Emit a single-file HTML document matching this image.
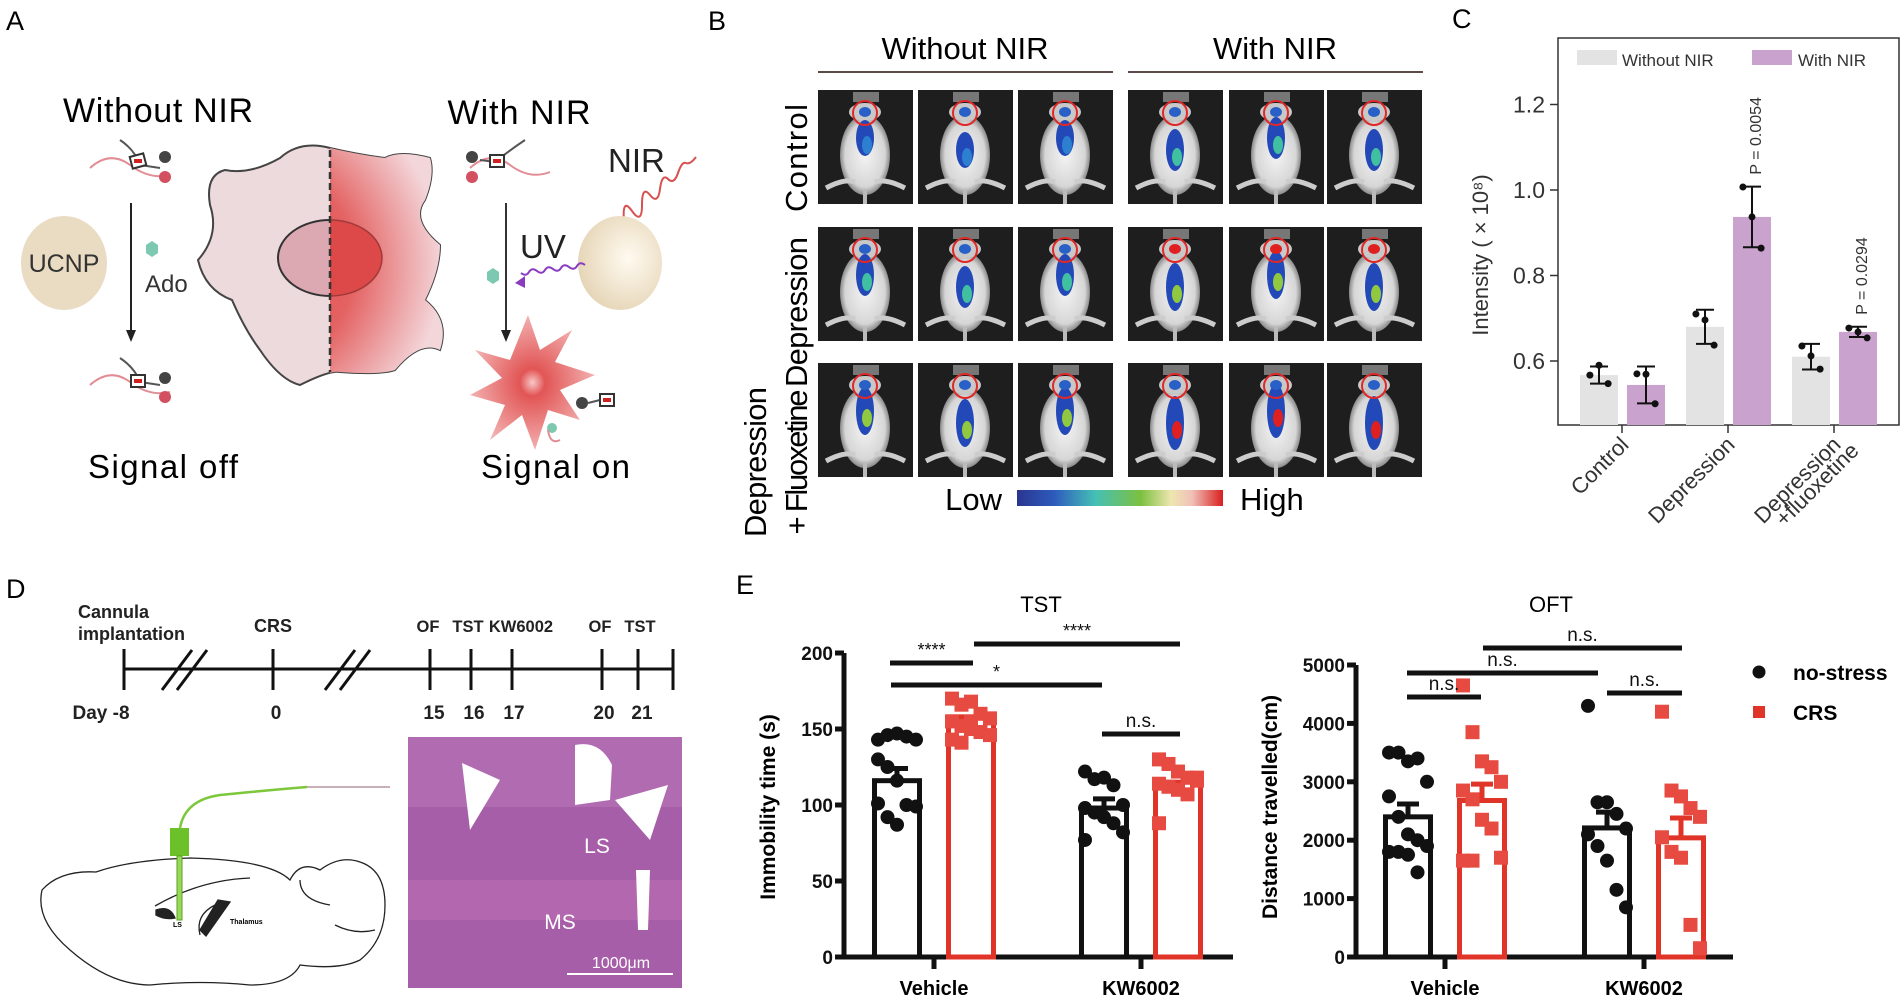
<!DOCTYPE html>
<html><head><meta charset="utf-8"><style>
html,body{margin:0;padding:0;background:#fff;width:1904px;height:1000px;overflow:hidden}
svg{display:block}
text{font-family:"Liberation Sans",Arial,sans-serif}
</style></head><body>
<svg id="fig" width="1904" height="1000" viewBox="0 0 1904 1000">
<defs>
<radialGradient id="redglow" cx="0.2" cy="0.5" r="0.8"><stop offset="0" stop-color="#e04a4a"/><stop offset="0.55" stop-color="#e46262"/><stop offset="1" stop-color="#f3d6da"/></radialGradient>
<radialGradient id="sphere" cx="0.6" cy="0.45" r="0.6"><stop offset="0" stop-color="#fffaf0"/><stop offset="1" stop-color="#e6d6b8"/></radialGradient>
<radialGradient id="burst" cx="0.5" cy="0.5" r="0.5"><stop offset="0" stop-color="#f8c8c8"/><stop offset="0.2" stop-color="#e25555"/><stop offset="1" stop-color="#f2b0b0"/></radialGradient>
<linearGradient id="cbar" x1="0" x2="1"><stop offset="0" stop-color="#2a3590"/><stop offset="0.18" stop-color="#2d5bbd"/><stop offset="0.38" stop-color="#45c0b5"/><stop offset="0.6" stop-color="#7cc040"/><stop offset="0.75" stop-color="#efe6b0"/><stop offset="0.85" stop-color="#f0c0b8"/><stop offset="1" stop-color="#d81e1e"/></linearGradient>
<radialGradient id="mbody" cx="0.5" cy="0.5" r="0.5"><stop offset="0" stop-color="#f4f4f4"/><stop offset="0.8" stop-color="#d6d6d6"/><stop offset="1" stop-color="#8a8a8a"/></radialGradient>
<clipPath id="cellL"><rect x="150" y="130" width="180" height="280"/></clipPath>
<clipPath id="cellR"><rect x="330" y="130" width="180" height="280"/></clipPath>
</defs>

<!-- PANEL A -->
<g>
<text x="6" y="30" font-size="27">A</text>
<text x="158" y="122" font-size="34" text-anchor="middle" textLength="190">Without NIR</text>
<text x="519" y="124" font-size="34" text-anchor="middle" textLength="143">With NIR</text>
<g fill="none" stroke-width="2">
<path d="M90 168 Q110 150 130 165 T170 175" stroke="#e28c94"/><path d="M120 140 Q135 150 140 165 L160 168" stroke="#555"/>
<circle cx="165" cy="157" r="6" fill="#444" stroke="none"/><circle cx="165" cy="177" r="6" fill="#d25060" stroke="none"/><rect x="131" y="155" width="14" height="12" stroke="#333" fill="#fff" transform="rotate(-15 138 161)"/><rect x="134" y="159" width="8" height="4" fill="#d02020" stroke="none"/></g>
<g fill="none" stroke-width="2">
<path d="M90 385 Q110 367 130 382 T170 392" stroke="#e28c94"/><path d="M120 358 Q135 368 140 382 L160 385" stroke="#555"/>
<circle cx="165" cy="378" r="6" fill="#444" stroke="none"/><circle cx="165" cy="397" r="6" fill="#d25060" stroke="none"/><rect x="131" y="375" width="14" height="12" stroke="#333" fill="#fff"/><rect x="134" y="379" width="8" height="4" fill="#d02020" stroke="none"/></g>
<line x1="131" y1="203" x2="131" y2="332" stroke="#222" stroke-width="2"/>
<polygon points="126,330 136,330 131,342" fill="#222"/>
<ellipse cx="64" cy="263" rx="43" ry="47" fill="#e9dcc2"/>
<text x="64" y="272" font-size="25" text-anchor="middle" fill="#333">UCNP</text>
<polygon points="146,245 152,241 158,245 158,253 152,257 146,253" fill="#7cc8b0"/>
<text x="145" y="292" font-size="24" fill="#333">Ado</text>
<g>
<path d="M330 148 Q300 140 280 158 Q250 175 225 170 Q205 175 210 205 Q220 235 198 260 Q205 290 232 300 Q245 330 260 350 Q280 380 300 385 Q330 370 340 372 Q380 375 395 370 Q420 340 440 350 Q450 320 425 300 Q440 270 440 245 Q410 220 425 200 Q435 175 430 158 Q400 150 385 158 Q360 155 330 148 Z" fill="#ecdadd" stroke="#444" stroke-width="2"/>
<path d="M330 148 Q300 140 280 158 Q250 175 225 170 Q205 175 210 205 Q220 235 198 260 Q205 290 232 300 Q245 330 260 350 Q280 380 300 385 Q330 370 340 372 Q380 375 395 370 Q420 340 440 350 Q450 320 425 300 Q440 270 440 245 Q410 220 425 200 Q435 175 430 158 Q400 150 385 158 Q360 155 330 148 Z" fill="url(#redglow)" clip-path="url(#cellR)"/>
<ellipse cx="330" cy="258" rx="52" ry="38" fill="#dca8b2" stroke="#333" stroke-width="2" clip-path="url(#cellL)"/>
<ellipse cx="330" cy="258" rx="52" ry="38" fill="#dd4848" stroke="#a03a3a" stroke-width="1.5" clip-path="url(#cellR)"/>
<line x1="330" y1="150" x2="330" y2="372" stroke="#333" stroke-width="2.5" stroke-dasharray="7,4"/>
</g>
<g fill="none" stroke-width="2">
<path d="M470 168 Q490 150 510 165 T550 172" stroke="#e28c94"/><path d="M480 160 L495 162 Q510 150 525 140" stroke="#555"/>
<circle cx="472" cy="157" r="6" fill="#444" stroke="none"/><circle cx="472" cy="177" r="6" fill="#d25060" stroke="none"/><rect x="490" y="155" width="14" height="12" stroke="#333" fill="#fff"/><rect x="493" y="159" width="8" height="4" fill="#d02020" stroke="none"/></g>
<line x1="506" y1="203" x2="506" y2="332" stroke="#333" stroke-width="2"/>
<polygon points="501,330 511,330 506,342" fill="#222"/>
<text x="608" y="172" font-size="33" fill="#222">NIR</text>
<path d="M696 157 q-6 8 -10 6 t-8 10 t-10 6 t-8 10 t-10 6 t-8 10 t-10 6 t-8 10" fill="none" stroke="#d85050" stroke-width="2"/>
<polygon points="622,233 628,220 634,228" fill="#d85050"/>
<ellipse cx="620" cy="263" rx="42" ry="47" fill="url(#sphere)"/>
<text x="520" y="258" font-size="33" fill="#222">UV</text>
<path d="M585 265 q-5 -4 -8 1 t-8 1 t-8 1 t-8 1 t-8 1 t-8 1 t-8 1 t-8 1" fill="none" stroke="#8a3cc0" stroke-width="2"/>
<polygon points="515,283 525,276 525,288" fill="#8a3cc0"/>
<polygon points="487,272 493,268 499,272 499,280 493,284 487,280" fill="#7cc8b0"/>
<polygon fill="url(#burst)" points="528,315 540,350 572,330 555,362 595,375 560,390 580,420 548,410 535,450 522,415 490,440 505,405 470,395 502,378 475,350 510,360"/>
<g fill="none" stroke-width="2"><circle cx="582" cy="403" r="6" fill="#444" stroke="none"/><path d="M588 403 L600 400" stroke="#555"/><rect x="600" y="394" width="14" height="12" stroke="#333" fill="#fff"/><rect x="603" y="398" width="8" height="4" fill="#d02020" stroke="none"/><circle cx="552" cy="428" r="5" fill="#7cc8b0" stroke="none"/><path d="M548 430 Q550 445 560 440" stroke="#e28c94"/></g>
<text x="88" y="478" font-size="33" textLength="150">Signal off</text>
<text x="481" y="478" font-size="33" textLength="149">Signal on</text>
</g>

<!-- PANEL B -->
<g id="panelB">
<text x="708" y="30" font-size="27">B</text>
<text x="965" y="59" font-size="31" text-anchor="middle">Without NIR</text>
<text x="1275" y="59" font-size="31" text-anchor="middle">With NIR</text>
<line x1="818" y1="72" x2="1113" y2="72" stroke="#5a4a48" stroke-width="2"/>
<line x1="1128" y1="72" x2="1423" y2="72" stroke="#5a4a48" stroke-width="2"/>
<text transform="translate(807,158) rotate(-90)" font-size="31" text-anchor="middle" textLength="108">Control</text>
<text transform="translate(807,312) rotate(-90)" font-size="31" text-anchor="middle" textLength="150">Depression</text>
<text transform="translate(766,462) rotate(-90)" font-size="31" text-anchor="middle" textLength="150">Depression</text>
<text transform="translate(807,462) rotate(-90)" font-size="31" text-anchor="middle" textLength="145">+ Fluoxetine</text>
<text x="1002" y="510" font-size="31" text-anchor="end">Low</text>
<rect x="1017" y="490" width="206" height="16" fill="url(#cbar)"/>
<text x="1240" y="510" font-size="31">High</text>
</g>

<!-- PANEL C -->
<g id="panelC">
<text x="1452" y="28" font-size="27">C</text>
</g>

<!-- PANEL D -->
<g>
<text x="6" y="598" font-size="27">D</text>
<g font-weight="bold" font-size="18" fill="#222">
<text x="78" y="618">Cannula</text>
<text x="78" y="640">implantation</text>
<text x="273" y="632" text-anchor="middle">CRS</text>
<text x="428" y="632" text-anchor="middle" font-size="16.5">OF</text>
<text x="468" y="632" text-anchor="middle" font-size="16.5">TST</text>
<text x="521" y="632" text-anchor="middle" font-size="16.5">KW6002</text>
<text x="600" y="632" text-anchor="middle" font-size="16.5">OF</text>
<text x="640" y="632" text-anchor="middle" font-size="16.5">TST</text>
<text x="101" y="719" text-anchor="middle" font-size="19">Day -8</text>
<text x="276" y="719" text-anchor="middle" font-size="19">0</text>
<text x="434" y="719" text-anchor="middle" font-size="19">15</text>
<text x="474" y="719" text-anchor="middle" font-size="19">16</text>
<text x="514" y="719" text-anchor="middle" font-size="19">17</text>
<text x="604" y="719" text-anchor="middle" font-size="19">20</text>
<text x="642" y="719" text-anchor="middle" font-size="19">21</text>
</g>
<g stroke="#111" stroke-width="3">
<line x1="124" y1="669" x2="673" y2="669"/>
<line x1="124" y1="649" x2="124" y2="690"/><line x1="273" y1="649" x2="273" y2="690"/>
<line x1="430" y1="649" x2="430" y2="690"/><line x1="471" y1="649" x2="471" y2="690"/><line x1="512" y1="649" x2="512" y2="690"/>
<line x1="602" y1="649" x2="602" y2="690"/><line x1="638" y1="649" x2="638" y2="690"/><line x1="673" y1="649" x2="673" y2="690"/>
<line x1="162" y1="690" x2="192" y2="650"/><line x1="177" y1="690" x2="207" y2="650"/>
<line x1="325" y1="690" x2="355" y2="650"/><line x1="340" y1="690" x2="370" y2="650"/>
</g>
<g fill="none" stroke="#222" stroke-width="1.3">
<path d="M96 872 Q60 870 42 890 Q35 920 70 950 Q110 985 150 985 Q200 980 250 985 Q290 985 300 965 Q340 970 360 960 Q385 940 385 905 Q385 870 360 862 Q340 855 320 870 Q300 860 290 880 Q270 860 190 858 Q130 860 96 872 Z"/>
<path d="M155 906 Q200 880 250 878"/><path d="M200 935 Q195 915 215 905"/><path d="M300 880 Q300 900 330 905"/><path d="M335 925 Q355 935 375 930"/>
<path d="M156 910 Q170 905 175 918 Q165 920 156 915 Z" fill="#222"/>
<path d="M218 900 L230 902 L206 936 L200 930 Z" fill="#222"/>
</g>
<text x="173" y="927" font-size="7" font-weight="bold">LS</text>
<text x="230" y="924" font-size="7" font-weight="bold">Thalamus</text>
<g>
<rect x="170" y="828" width="19" height="28" fill="#6cc02a"/>
<rect x="177" y="856" width="5" height="64" fill="#9ad85a" stroke="#5aa020" stroke-width="1"/>
<path d="M180 828 Q185 800 220 795 Q270 790 307 787" fill="none" stroke="#7cc83a" stroke-width="2.5"/>
<line x1="307" y1="787" x2="390" y2="787" stroke="#c8b0b8" stroke-width="2"/>
</g>
<g>
<rect x="408" y="737" width="274" height="251" fill="#a75ea8"/>
<rect x="408" y="737" width="274" height="70" fill="#b574b8" opacity="0.6"/>
<rect x="408" y="880" width="274" height="40" fill="#c070b4" opacity="0.5"/>
<path d="M462 763 L500 780 L470 830 Z" fill="#fff"/>
<path d="M575 745 Q600 740 612 765 L610 800 L575 805 Z" fill="#fff"/>
<path d="M615 800 L668 785 L650 840 Z" fill="#fff"/>
<path d="M636 870 L650 870 L648 930 L638 930 Z" fill="#fff"/>
<text x="597" y="853" font-size="21" fill="#fff" text-anchor="middle">LS</text>
<text x="560" y="929" font-size="21" fill="#fff" text-anchor="middle">MS</text>
<text x="621" y="968" font-size="16" fill="#fff" text-anchor="middle">1000μm</text>
<line x1="567" y1="974" x2="673" y2="974" stroke="#fff" stroke-width="2"/>
</g>
</g>

<g id="panelE">
<text x="736" y="594" font-size="27">E</text>
</g>
</svg>
<script>
// ---- Panel C data ----
const cCategories = ["Control", "Depression", "Depression\n+fluoxetine"];
const cWithout = [0.567, 0.680, 0.610];
const cWith = [0.544, 0.937, 0.668];
const cWithoutSd = [0.02, 0.04, 0.03];
const cWithSd = [0.043, 0.071, 0.012];
const cWithoutPts = [[0.567, 0.590, 0.547], [0.710, 0.696, 0.637], [0.635, 0.612, 0.581]];
const cWithPts = [[0.570, 0.569, 0.500], [1.007, 0.937, 0.864], [0.677, 0.668, 0.654]];
const cTicks = [0.6, 0.8, 1.0, 1.2];
const cPvals = [null, "P = 0.0054", "P = 0.0294"];

// ---- Panel E TST data ----
const eGroups = ["Vehicle", "KW6002"];
const tstNoStress = [116, 98];
const tstCRS = [158, 115];
const tstNoStressSem = [8, 6];
const tstCRSSem = [0, 0];
const tstNoStressPts = [[143,146,147,145,143,130,125,116,100,99,101,92,87],[122,117,118,113,100,98,95,92,88,82,77]];
const tstCRSPts = [[170,166,168,160,157,155,152,150,148,146,143,141,155],[130,127,122,118,116,114,112,110,107,118,88]];
const tstTicks = [0, 50, 100, 150, 200];

// ---- Panel E OFT data ----
const oftNoStress = [2400, 2210];
const oftCRS = [2680, 2040];
const oftNoStressSem = [220, 270];
const oftCRSSem = [280, 340];
const oftNoStressPts = [[3500,3500,3350,3400,3000,2750,2400,2100,2000,1900,1800,1800,1750,1450],[4300,2650,2650,2450,2200,2100,1900,1650,1150,850]];
const oftCRSPts = [[4650,3850,3350,3250,3000,2850,2700,2350,2200,1700,1650,1650],[4200,2850,2750,2550,2400,2050,1800,1700,550,150]];
const oftTicks = [0, 1000, 2000, 3000, 4000, 5000];

const NS = "http://www.w3.org/2000/svg";
function mk(parent, tag, attrs, text) {
  const el = document.createElementNS(NS, tag);
  for (const k in attrs) el.setAttribute(k, attrs[k]);
  if (text !== undefined) el.textContent = text;
  parent.appendChild(el);
  return el;
}

// ---- Panel B mouse tiles ----
(function () {
  const g = document.getElementById("panelB");
  const cols = [818, 918, 1018, 1128, 1229, 1327];
  const rows = [90, 227, 363];
  const blobColors = ["#2040b0", "#2d7fd0", "#40c0a0", "#90c840", "#e02020"];
  rows.forEach((ry, ri) => cols.forEach((cx, ci) => {
    const tile = mk(g, "g", {});
    
    
    mk(tile, "rect", { x: cx, y: ry, width: 95, height: 114, fill: "#1e1e1e" });
    mk(tile, "rect", { x: cx + 35, y: ry + 2, width: 26, height: 10, fill: "#777" });
    const mx = cx + 47;
    mk(tile, "ellipse", { cx: mx, cy: ry + 65, rx: 25, ry: 40, fill: "url(#mbody)" });
    mk(tile, "ellipse", { cx: mx, cy: ry + 22, rx: 16, ry: 9, fill: "#c8c8c8" });
    mk(tile, "path", { d: `M${cx+8} ${ry+98} Q${mx-20} ${ry+88} ${mx-10} ${ry+92} M${cx+87} ${ry+98} Q${mx+20} ${ry+88} ${mx+10} ${ry+92}`, stroke: "#ccc", "stroke-width": 5, fill: "none" });
    mk(tile, "line", { x1: mx, y1: ry + 100, x2: mx, y2: ry + 114, stroke: "#bbb", "stroke-width": 4 });
    const intensity = (ci >= 3 ? 1 : 0) + ri;
    mk(tile, "ellipse", { cx: mx, cy: ry + 48 + (ci % 2) * 12, rx: 9, ry: 18 + intensity * 3, fill: "#2348b8" });
    mk(tile, "ellipse", { cx: mx + 2, cy: ry + 55 + (ci % 2) * 12, rx: 5, ry: 9, fill: blobColors[Math.min(4, 1 + intensity)] });
    mk(tile, "ellipse", { cx: mx, cy: ry + 22, rx: 6, ry: 5, fill: ri === 1 && ci >= 3 ? "#e02020" : "#2860c8" });
    mk(tile, "circle", { cx: mx, cy: ry + 23, r: 12, fill: "none", stroke: "#e02828", "stroke-width": 2 });
  }));
})();

// ---- Panel C chart ----
(function () {
  const g = document.getElementById("panelC");
  const y = v => 361 - (v - 0.6) * 427.5;
  const centers = [1622, 1728, 1834];
  const bw = 38;
  const box = mk(g, "rect", { x: 1558, y: 38, width: 341, height: 387, fill: "none", stroke: "#333", "stroke-width": 1.5 });
  
  
  cTicks.forEach(t => {
    mk(g, "line", { x1: 1550, y1: y(t), x2: 1558, y2: y(t), stroke: "#333", "stroke-width": 1.5 });
    const lb = mk(g, "text", { x: 1545, y: y(t) + 8, "font-size": 23, "text-anchor": "end", fill: "#333" }, t.toFixed(1));
    
    
  });
  const yl = mk(g, "text", { transform: "translate(1488,255) rotate(-90)", "font-size": 22, "text-anchor": "middle", fill: "#333" }, "Intensity ( × 10⁸)");
  
  
  const jit = [-7, 0, 7];
  cCategories.forEach((cat, i) => {
    const c = centers[i];
    mk(g, "line", { x1: c, y1: 425, x2: c, y2: 433, stroke: "#333", "stroke-width": 1.5 });
    [[cWithout, cWithoutSd, cWithoutPts, "#e3e3e3", c - 42, "bar-without-nir"], [cWith, cWithSd, cWithPts, "#c9a2cd", c + 5, "bar-with-nir"]].forEach(([vals, sds, pts, col, x0, nm]) => {
      const v = vals[i];
      const b = mk(g, "rect", { x: x0, y: y(v), width: bw, height: 425 - y(v), fill: col });
      
      
      const mx = x0 + bw / 2;
      mk(g, "line", { x1: mx, y1: y(v + sds[i]), x2: mx, y2: y(v - sds[i]), stroke: "#111", "stroke-width": 2 });
      mk(g, "line", { x1: mx - 9, y1: y(v + sds[i]), x2: mx + 9, y2: y(v + sds[i]), stroke: "#111", "stroke-width": 2 });
      mk(g, "line", { x1: mx - 9, y1: y(v - sds[i]), x2: mx + 9, y2: y(v - sds[i]), stroke: "#111", "stroke-width": 2 });
      pts[i].forEach((p, k) => {
        const d = mk(g, "circle", { cx: mx + jit[k] * (k === 1 ? 0 : 1.3), cy: y(p), r: 3.5, fill: "#111" });
        
        
      });
    });
    if (cPvals[i]) {
      const v = cWith[i] + cWithSd[i];
      const pt = mk(g, "text", { transform: `translate(${c + 33},${y(v) - 12}) rotate(-90)`, "font-size": 16, fill: "#333" }, cPvals[i]);
      
      
    }
    const lines = cat.split("\n");
    lines.forEach((ln, li) => {
      const t = mk(g, "text", { transform: `translate(${c + 8 + li * 18},${446 + li * 6}) rotate(-45)`, "font-size": 22, "text-anchor": "end", fill: "#333" }, ln);
      
      
    });
  });
  const l1 = mk(g, "rect", { x: 1577, y: 50, width: 40, height: 15, fill: "#e3e3e3" });
  
  
  const lt1 = mk(g, "text", { x: 1622, y: 66, "font-size": 17, fill: "#333" }, "Without NIR");
  
  
  const l2 = mk(g, "rect", { x: 1752, y: 50, width: 40, height: 15, fill: "#c9a2cd" });
  
  
  const lt2 = mk(g, "text", { x: 1798, y: 66, "font-size": 17, fill: "#333" }, "With NIR");
  
  
})();

// ---- Panel E charts ----
function drawBarChart(cfg) {
  const g = document.getElementById("panelE");
  const y = cfg.y;
  const black = "#111", red = "#e03428";
  const ax = mk(g, "path", { d: `M${cfg.ax} ${y(cfg.ticks[cfg.ticks.length-1])} V957 H${cfg.axEnd}`, fill: "none", stroke: black, "stroke-width": 5 });
  
  
  cfg.ticks.forEach(t => {
    mk(g, "line", { x1: cfg.ax - 9, y1: y(t), x2: cfg.ax, y2: y(t), stroke: black, "stroke-width": 5 });
    const lb = mk(g, "text", { x: cfg.ax - 11, y: y(t) + 7, "font-size": 19, "font-weight": "bold", "text-anchor": "end", fill: black }, String(t));
    
    
  });
  const tl = mk(g, "text", { x: cfg.titleX, y: 612, "font-size": 22, "text-anchor": "middle" }, cfg.title);
  
  
  const yt = mk(g, "text", { transform: `translate(${cfg.ylabX},807) rotate(-90)`, "font-size": 21, "font-weight": "bold", "text-anchor": "middle" }, cfg.ylabel);
  
  
  eGroups.forEach((grp, i) => {
    const tx = cfg.ticksX[i];
    mk(g, "line", { x1: tx, y1: 957, x2: tx, y2: 969, stroke: black, "stroke-width": 5 });
    const xl = mk(g, "text", { x: tx, y: 995, "font-size": 20, "font-weight": "bold", "text-anchor": "middle" }, grp);
    
    
    [[cfg.ns, cfg.nsSem, cfg.nsPts, black, tx - 62, "bar-no-stress"], [cfg.crs, cfg.crsSem, cfg.crsPts, red, tx + 12, "bar-crs"]].forEach(([vals, sems, pts, col, x0, nm]) => {
      const v = vals[i];
      const b = mk(g, "rect", { x: x0 + 2.5, y: y(v), width: 45, height: 957 - y(v), fill: "none", stroke: col, "stroke-width": 5 });
      
      
      pts[i].forEach((p, k) => {
        const px = x0 + 6 + (k % 5) * 9.5;
        let d;
        if (col === black) d = mk(g, "circle", { cx: px, cy: y(p), r: 7, fill: black });
        else d = mk(g, "rect", { x: px - 7, y: y(p) - 7, width: 14, height: 14, fill: "#e64a40" });
        
        
      });
      if (sems[i] > 0) {
        const mx = x0 + 25;
        mk(g, "line", { x1: mx, y1: y(v), x2: mx, y2: y(v + sems[i]), stroke: col, "stroke-width": 5 });
        mk(g, "line", { x1: mx - 11, y1: y(v + sems[i]), x2: mx + 11, y2: y(v + sems[i]), stroke: col, "stroke-width": 5 });
      }
    });
  });
  cfg.sig.forEach(s => {
    const l = mk(g, "line", { x1: s[0], y1: s[2], x2: s[1], y2: s[2], stroke: black, "stroke-width": 5 });
    
    
    const t = mk(g, "text", { x: (s[0] + s[1]) / 2, y: s[2] - 7, "font-size": s[3] === "n.s." ? 19 : 18, "text-anchor": "middle", fill: "#111" }, s[3]);
    
    
  });
}
drawBarChart({
  name: "tst", title: "TST", titleX: 1041, ylabel: "Immobility time (s)", ylabX: 775,
  y: v => 957 - v * 1.52, ax: 844, axEnd: 1233, ticks: tstTicks, ticksX: [934, 1141],
  ns: tstNoStress, crs: tstCRS, nsSem: tstNoStressSem, crsSem: tstCRSSem, nsPts: tstNoStressPts, crsPts: tstCRSPts,
  sig: [[890, 973, 663, "****"], [974, 1180, 644, "****"], [891, 1102, 685, "*"], [1102, 1180, 734, "n.s."]]
});
drawBarChart({
  name: "oft", title: "OFT", titleX: 1551, ylabel: "Distance travelled(cm)", ylabX: 1277,
  y: v => 957 - v * 0.0584, ax: 1356, axEnd: 1733, ticks: oftTicks, ticksX: [1445, 1644],
  ns: oftNoStress, crs: oftCRS, nsSem: oftNoStressSem, crsSem: oftCRSSem, nsPts: oftNoStressPts, crsPts: oftCRSPts,
  sig: [[1407, 1481, 697, "n.s."], [1407, 1598, 673, "n.s."], [1483, 1682, 648, "n.s."], [1607, 1682, 693, "n.s."]]
});
(function () {
  const g = document.getElementById("panelE");
  const d = mk(g, "circle", { cx: 1759, cy: 672, r: 6.5, fill: "#111" });
  
  
  const t1 = mk(g, "text", { x: 1793, y: 680, "font-size": 21, "font-weight": "bold" }, "no-stress");
  
  
  const s = mk(g, "rect", { x: 1753, y: 706, width: 12, height: 12, fill: "#e03428" });
  
  
  const t2 = mk(g, "text", { x: 1793, y: 720, "font-size": 21, "font-weight": "bold" }, "CRS");
  
  
})();
</script>
</body></html>
